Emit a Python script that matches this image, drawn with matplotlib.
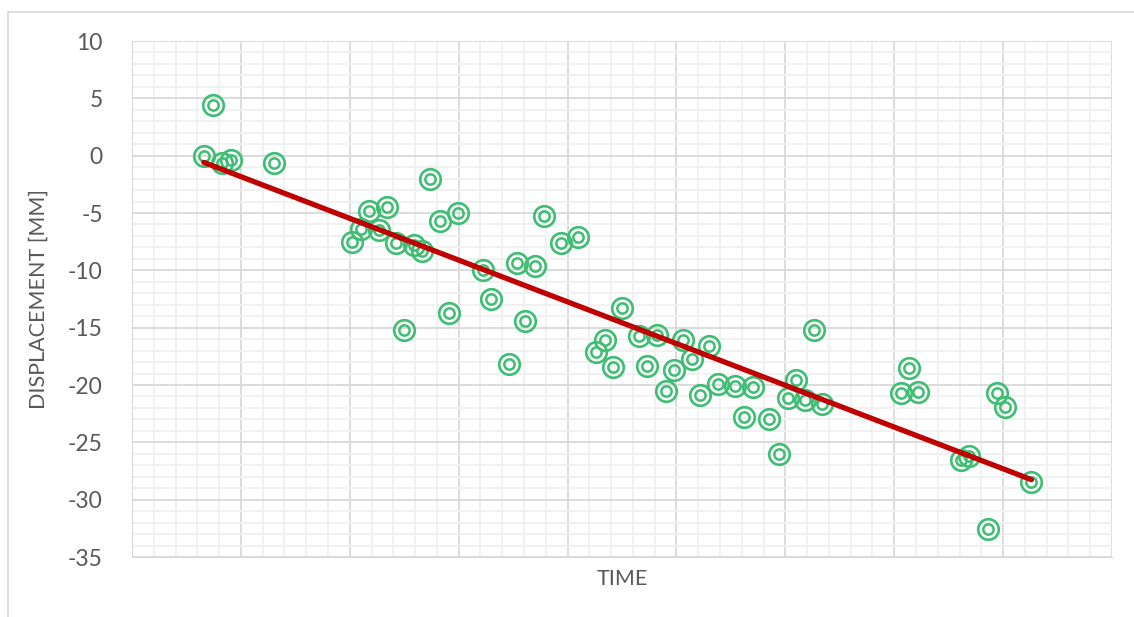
import matplotlib.pyplot as plt
import numpy as np
from matplotlib.ticker import MultipleLocator, NullFormatter
from matplotlib.lines import Line2D

# data (time in arbitrary units, displacement in mm)
time = [0.66, 0.74, 0.83, 0.91, 1.30, 2.02, 2.10, 2.18, 2.27, 2.34,
        2.42, 2.50, 2.59, 2.66, 2.74, 2.83, 2.91, 2.99, 3.22, 3.30,
        3.46, 3.54, 3.61, 3.70, 3.78, 3.94, 4.10, 4.26, 4.34, 4.42,
        4.50, 4.66, 4.73, 4.82, 4.90, 4.98, 5.06, 5.14, 5.22, 5.30,
        5.38, 5.54, 5.62, 5.70, 5.85, 5.94, 6.02, 6.10, 6.18, 6.26,
        6.34, 7.06, 7.14, 7.22, 7.61, 7.69, 7.86, 7.94, 8.02, 8.26]
displacement = [0.0, 4.4, -0.6, -0.4, -0.6, -7.5, -6.4, -4.8, -6.5, -4.5,
                -7.6, -15.2, -7.8, -8.3, -2.0, -5.7, -13.7, -5.0, -10.0, -12.5,
                -18.2, -9.4, -14.4, -9.6, -5.3, -7.6, -7.1, -17.1, -16.1, -18.4,
                -13.3, -15.7, -18.3, -15.6, -20.5, -18.7, -16.1, -17.7, -20.9, -16.6,
                -19.9, -20.1, -22.8, -20.2, -23.0, -26.0, -21.1, -19.6, -21.3, -15.2,
                -21.7, -20.7, -18.5, -20.6, -26.5, -26.2, -32.6, -20.7, -21.9, -28.5]

green = '#3DBE72'
grey_text = '#595959'

plt.rcParams['font.family'] = ['Lato', 'DejaVu Sans']
plt.rcParams['axes.unicode_minus'] = False

fig = plt.figure(figsize=(11.34, 6.17), dpi=100)
ax = fig.add_axes([132/1134, 1 - 557/617, (1112 - 132)/1134, (557 - 41)/617])

x = np.array(time)
y = np.array(displacement)

# double-circle markers
ax.plot(x, y, linestyle='none', marker='o', markersize=14.8, markerfacecolor='none',
        markeredgecolor=green, markeredgewidth=1.9, zorder=3)
ax.plot(x, y, linestyle='none', marker='o', markersize=7.4, markerfacecolor='none',
        markeredgecolor=green, markeredgewidth=1.8, zorder=3)

# linear trend line
k, b = np.polyfit(x, y, 1)
xt = np.array([x.min(), x.max()])
ax.plot(xt, k * xt + b, color='#C00000', linewidth=3.8, solid_capstyle='round', zorder=4)

ax.set_xlim(0, 9)
ax.set_ylim(-35, 10)
ax.xaxis.set_major_locator(MultipleLocator(1))
ax.xaxis.set_minor_locator(MultipleLocator(0.2))
ax.yaxis.set_major_locator(MultipleLocator(5))
ax.yaxis.set_minor_locator(MultipleLocator(1))
ax.xaxis.set_major_formatter(NullFormatter())

ax.grid(which='major', color='#D9D9D9', linewidth=1.3)
ax.grid(which='minor', color='#F0F0F0', linewidth=1.3)
ax.set_axisbelow(True)
ax.tick_params(which='both', length=0)
ax.tick_params(axis='y', labelsize=16.5, labelcolor=grey_text, pad=21)
for s in ax.spines.values():
    s.set_visible(False)
ax.spines['left'].set_visible(True)
ax.spines['bottom'].set_visible(True)
ax.spines['left'].set_color('#D9D9D9')
ax.spines['bottom'].set_color('#D9D9D9')

ax.set_xlabel('TIME', fontsize=15.5, color=grey_text, labelpad=5)
ax.set_ylabel('DISPLACEMENT [MM]', fontsize=15.5, color=grey_text, labelpad=14)

# chart area border
fig.add_artist(Line2D([7.5/1134, 7.5/1134], [0, 1 - 12/617], color='#D9D9D9', linewidth=1.2))
fig.add_artist(Line2D([7.5/1134, 1], [1 - 12/617, 1 - 12/617], color='#D9D9D9', linewidth=1.2))

plt.savefig('out.png', dpi=100)
